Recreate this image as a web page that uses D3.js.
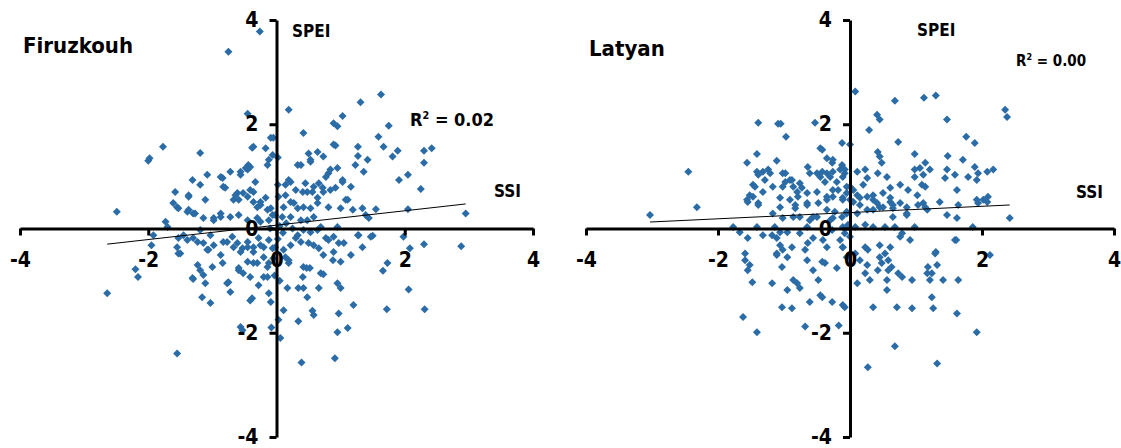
<!DOCTYPE html>
<html>
<head>
<meta charset="utf-8">
<script src="https://cdn.jsdelivr.net/npm/d3@7"></script>
<style>
  body { margin: 0; background: #fff; }
  svg text { font-family: "DejaVu Sans Condensed", "Liberation Sans", sans-serif; font-weight: bold; fill: #000; }
</style>
</head>
<body>
<div id="chart"></div>
<script>
/* axis ticks, shared by both panels */
const tickValues = [-4, -2, 0, 2, 4];

/* Firuzkouh: [SSI, SPEI] pairs */
const firuzkouhPoints = [
  [-0.75,3.39],[-0.26,3.78],[-0.45,2.2],[-1.77,1.57],[-1.98,1.35],[-2.0,1.3],[-1.19,1.45],[-2.49,0.32],[-0.09,1.74],[-0.36,1.57],
  [-0.17,1.54],[-0.72,1.09],[-0.56,1.09],[-0.44,1.22],[-0.48,1.16],[-1.31,0.93],[-1.08,1.03],[-1.19,0.84],[-0.87,0.99],[-0.83,0.80],
  [-1.58,0.70],[-1.61,0.49],[-1.37,0.61],[-1.11,0.55],[-0.61,0.68],[-0.45,0.61],[-0.36,0.70],[-0.25,0.51],[-0.67,0.55],[-0.33,0.89],
  [-0.14,1.22],[-0.06,1.41],[-1.55,0.41],[-1.39,0.32],[-1.30,0.29],[-1.14,0.20],[-0.98,0.20],[-0.87,0.29],[-1.73,0.13],
  [-0.38,1.55],[-0.12,1.32],[0.02,1.36],[-0.56,1.03],[-0.45,1.13],[-0.41,1.18],[-0.84,0.97],[-0.80,0.78],[-1.37,0.64],[-0.64,0.64],
  [-0.59,0.55],[-0.52,0.68],[-0.41,0.74],[-0.36,0.51],[-0.30,0.41],[-0.25,0.45],[-0.14,0.36],[-0.09,0.39],[-0.17,0.59],[-1.53,0.39],
  [-1.37,0.36],[-1.27,0.29],[-0.98,0.16],[-0.87,0.22],[-0.72,0.22],[-0.59,0.26],[-0.45,0.16],[-0.30,0.20],[-0.25,0.13],[-0.12,0.16],[-0.06,0.26],
  [-1.92,-0.13],[-1.53,-0.18],[-1.45,-0.13],[-1.30,-0.18],[-1.19,-0.03],[-1.03,-0.13],[-1.55,-0.36],[-1.50,-0.48],[-1.14,-0.28],[-1.06,-0.41],
  [-0.87,-0.51],[-0.83,-0.26],[-0.69,-0.16],[-0.61,-0.28],[-0.53,-0.38],[-0.45,-0.26],[-0.36,-0.36],[-0.28,-0.18],[-0.20,-0.36],[-0.12,-0.22],
  [-0.06,-0.38],[-1.23,-0.70],[-1.31,-0.95],[-1.11,-1.05],[-0.77,-1.05],[-0.72,-1.22],[-0.59,-0.76],[-0.41,-0.93],[-0.30,-0.66],[-0.20,-0.93],
  [-0.14,-0.74],[-0.41,-1.38],[-0.12,-1.24],[-0.09,-1.41],
  [-2.64,-1.24],[-1.55,-2.40],[-2.20,-0.78],[-2.16,-0.93],[-1.95,-0.32],[-1.53,-0.48],[-1.30,-0.97],[-1.19,-0.80],[-1.14,-0.89],[-1.16,-1.32],
  [-1.03,-1.43],[-1.00,-0.74],[-0.84,-0.66],[-0.75,-1.03],[-0.59,-0.80],[-0.52,-0.86],[-0.38,-1.34],[-0.28,-1.09],[-0.56,-1.89],[-0.53,-1.95],
  [-0.14,-0.93],[-1.39,-0.22],[-1.23,-0.26],[-1.08,-0.41],[-0.98,-0.32],[-0.77,-0.26],[-0.67,-0.36],[-0.56,-0.45],[-0.45,-0.36],[-0.36,-0.45],
  [-0.25,-0.32],[-0.20,-0.55],[-0.12,-0.66],[-0.36,-0.66],[-0.45,-0.64],[-1.70,0.03],
  [0.19,2.28],[1.31,2.42],[1.63,2.57],[1.03,2.16],[0.89,2.02],[0.95,1.96],[1.75,1.97],[0.42,1.83],[1.59,1.76],[1.67,1.57],
  [1.89,1.49],[2.30,1.49],[2.42,1.54],[2.30,1.26],[0.92,1.59],[1.27,1.57],[1.27,1.39],[1.42,1.32],[1.81,1.38],[1.23,1.22],
  [1.36,1.09],[0.95,1.16],[0.81,1.06],[0.77,0.99],[0.64,1.47],[0.50,1.44],[0.53,1.32],[0.73,1.38],[0.33,1.22],[0.38,1.22],
  [2.05,1.03],[1.91,0.93],[2.25,0.76],[1.16,0.80],[1.03,0.89],[0.92,0.78],[0.84,0.74],[0.72,0.78],[0.66,0.87],[0.58,0.80],
  [0.45,0.87],[0.48,0.70],[0.30,0.74],[0.14,0.84],[0.22,0.89],[0.14,0.64],[1.08,0.55],[0.81,0.41],[1.00,0.39],[1.19,0.36],
  [1.34,0.39],[1.39,0.26],[1.44,0.20],[1.55,0.37],[2.05,0.37],[2.95,0.29],[0.64,0.49],[0.42,0.41],[0.27,0.49],[0.11,0.41],
  [0.89,1.61],[0.53,1.28],[0.84,1.13],[1.03,0.93],[-0.05,1.74],[0.19,0.93],[0.02,0.84],[0.41,0.70],[0.56,0.70],[0.64,0.59],
  [0.73,0.70],[1.11,0.55],[0.03,0.61],[0.22,0.51],[0.33,0.39],[0.53,0.39],[-0.02,0.26],[0.09,0.22],[0.22,0.22],[0.38,0.16],
  [0.48,0.16],[0.58,0.22],[0.69,0.03],[0.95,0.03],[0.33,-0.13],[0.42,-0.03],[0.53,-0.07],[0.64,-0.03],[0.77,-0.18],[0.89,-0.16],
  [1.27,-0.13],[1.47,-0.16],[0.42,-0.74],[0.69,-0.86],
  [2.88,-0.34],[2.30,-0.30],[2.08,-0.38],[1.98,-0.16],[1.73,-0.66],[1.66,-0.81],[2.06,-1.17],[2.31,-1.55],[1.72,-1.55],[1.20,-1.47],
  [1.11,-1.91],[0.95,-1.99],[0.91,-2.49],[0.39,-2.57],[0.34,-1.78],[0.11,-1.57],[0.58,-1.66],[0.56,-1.58],[0.97,-1.63],[0.17,-1.14],
  [0.34,-1.14],[0.42,-1.14],[0.48,-1.32],[0.66,-1.14],[0.95,-1.05],[1.00,-1.14],[0.41,-0.93],[0.47,-0.76],[0.52,-0.76],[0.73,-0.88],
  [0.19,-0.61],[0.88,-0.61],[1.00,-0.64],[1.16,-0.51],[1.34,-0.36],[1.50,-0.14],[1.28,-0.13],[1.05,-0.28],[0.97,-0.28],[0.81,-0.22],
  [0.73,-0.51],[0.89,-0.45],[0.66,-0.38],[0.58,-0.32],[0.50,-0.28],[0.38,-0.26],[0.30,-0.18],[0.22,-0.32],[0.11,-0.41],[0.14,-0.55],
  [0.19,-0.66],[-0.02,-0.36],[-0.05,-0.57],
  [0.02,-0.2],[-0.03,-0.9],[0.05,-1.0],[0.03,-1.75],[-0.08,-1.9],[0.06,-2.1],[0.05,0.05],[0.15,0.1],[0.25,0.0],[-0.1,0.0],[0.1,-0.08]
];

/* Latyan: [SSI, SPEI] pairs */
const latyanPoints = [
  [-3.03,0.26],[-2.45,1.09],[-2.32,0.41],[-1.39,2.03],[-1.09,2.01],[-1.05,2.01],[-0.97,1.76],[-0.53,2.03],[-1.41,1.43],[-1.56,1.26],
  [-1.11,1.30],[-1.41,1.09],[-1.32,1.09],[-1.24,1.13],[-1.21,1.06],[-1.29,0.93],[-1.02,1.06],[-0.91,0.93],[-0.64,1.18],[-0.61,1.06],
  [-0.45,1.54],[-0.35,1.35],[-0.27,1.26],[-0.50,1.06],[-0.42,1.09],[-0.35,1.06],[-0.26,1.09],[-0.15,1.13],[-0.08,1.06],[-1.47,0.84],
  [-1.17,0.80],[-1.02,0.80],[-0.86,0.80],[-0.76,0.87],[-0.65,0.68],[-1.47,0.61],[-1.55,0.51],[-1.39,0.49],[-1.06,0.59],[-0.91,0.55],
  [-0.79,0.61],[-0.83,0.39],[-0.65,0.49],[-0.50,0.70],[-0.48,0.49],[-0.35,0.55],[-0.26,0.61],[-0.18,0.74],[-0.11,0.55],[-0.05,0.68],
  [-1.17,0.29],[-0.86,0.22],[-0.56,0.22],[-0.30,0.16],[-0.12,0.22],
  [-0.42,1.51],[-0.26,1.32],[-0.12,1.22],[-1.39,1.03],[-0.98,1.06],[-0.98,0.89],[-0.88,0.93],[-1.44,0.80],[-1.32,0.70],[-1.52,0.64],
  [-1.56,0.55],[-1.39,0.45],[-1.06,0.41],[-0.80,0.70],[-0.73,0.78],[-0.83,0.45],[-0.65,0.45],[-0.35,0.61],[-0.26,0.74],[-0.35,0.36],
  [-0.23,0.32],[-0.30,0.99],[-0.45,0.99],[-0.38,0.89],[-0.20,0.89],[-0.11,0.99],[-1.02,0.20],[-0.76,0.22],[-0.61,0.16],[-0.50,0.22],
  [-0.26,0.20],[-0.12,1.64],
  [-1.77,0.03],[-1.67,-0.07],[-1.55,-0.18],[-1.41,0.03],[-1.59,-0.61],[-1.52,-0.70],[-1.48,-1.03],[-1.32,-0.13],[-1.18,-0.13],[-1.14,0.03],
  [-1.06,-0.07],[-1.11,-0.18],[-1.06,-0.32],[-1.11,-0.48],[-1.02,-0.41],[-0.95,-0.55],[-0.88,-0.36],[-0.95,-0.07],[-0.76,-0.09],[-0.65,0.03],
  [-0.64,-0.28],[-0.65,-0.61],[-0.56,-0.80],[-0.48,-0.99],[-0.38,-0.66],[-0.41,-0.22],[-0.35,-0.36],[-0.20,-0.76],[-0.15,-0.22],[-0.11,-0.36],
  [-0.27,-0.03],[-1.18,-1.05],[-0.95,-1.18],[-0.86,-0.99],[-0.80,-1.05],[-0.76,-1.14],[-1.03,-1.51],[-0.88,-1.53],[-0.61,-1.41],[-0.45,-1.28],
  [-0.27,-1.41],[-0.08,-1.51],[-1.62,-1.70],[-1.41,-1.99],[-0.68,-1.88],[-0.17,-1.86],[-1.59,-0.48],[-1.55,-0.80],[-1.11,-0.51],[-1.03,-0.74],
  [-0.42,-1.32],[-0.42,-0.64],[-0.68,-0.41],[-0.56,-0.18],[-0.05,-0.55],
  [0.08,2.63],[0.68,2.45],[1.12,2.51],[1.30,2.55],[2.35,2.28],[2.38,2.14],[0.41,2.18],[0.45,2.09],[0.29,1.89],[1.47,2.09],
  [0.73,1.66],[1.76,1.76],[1.89,1.64],[0.0,1.61],[0.42,1.47],[0.98,1.43],[1.48,1.39],[0.45,1.38],[0.48,1.26],[1.14,1.26],
  [1.71,1.32],[1.89,1.18],[0.98,1.13],[1.06,1.16],[1.21,1.13],[1.47,1.13],[1.59,1.03],[1.79,0.99],[1.94,1.06],[2.08,1.09],
  [2.17,1.13],[0.98,0.99],[1.11,1.03],[1.44,0.97],[0.23,1.13],[0.26,0.97],[0.42,1.06],[0.56,0.99],[0.11,1.09],[0.76,0.84],
  [0.88,0.74],[0.61,0.78],[0.50,0.68],[1.09,0.84],[1.14,0.80],[1.62,0.74],[1.02,0.64],[0.35,0.55],[0.61,0.51],[0.76,0.49],
  [1.11,0.49],[1.36,0.51],[1.94,0.49],[2.02,0.55],[2.09,0.61],[1.47,0.26],[1.62,0.20],[2.42,0.20],[1.17,0.36],[0.86,0.29],
  [0.65,0.39],[0.45,0.41],[0.26,0.36],[0.15,0.45],[0.11,0.64],[0.0,0.80],[0.0,0.55],[-0.05,0.29],
  [-0.08,1.13],[1.92,0.93],[-0.05,0.80],[0.05,0.74],[0.20,0.84],[0.35,0.64],[1.92,0.55],[-0.11,0.59],[0.05,0.51],[0.15,0.59],
  [0.26,0.61],[0.41,0.49],[0.50,0.41],[0.61,0.59],[0.65,0.45],[0.86,0.41],[1.03,0.45],[1.14,0.41],[1.64,0.45],[2.08,0.51],
  [-0.05,0.32],[0.11,0.29],[0.35,0.36],[0.65,0.22],[0.86,0.26],
  [-0.11,0.03],[-0.03,0.07],[0.08,0.03],[0.23,0.07],[0.35,0.03],[0.53,0.03],[0.68,0.03],[0.79,-0.09],[0.98,0.03],[0.91,-0.22],
  [0.76,-0.16],[1.59,-0.22],[1.86,0.03],[-0.08,-0.09],[0.0,-0.16],[-0.11,-0.36],[0.23,-0.36],[0.27,-0.41],[0.45,-0.32],[0.53,-0.48],
  [0.61,-0.36],[0.45,-0.55],[0.48,-0.66],[0.58,-0.61],[0.63,-0.74],[0.15,-0.61],[0.26,-0.70],[0.08,-0.48],[0.23,-0.86],[0.30,-0.99],
  [0.42,-0.80],[0.58,-0.80],[0.73,-0.86],[0.79,-0.93],[0.56,-0.99],[1.29,-0.48],[1.18,-0.74],[1.32,-0.70],[1.17,-0.86],[1.24,-0.86],
  [0.11,-1.05],[0.56,-1.18],[0.94,-0.99],[1.21,-0.99],[1.41,-0.99],[1.64,-0.99],[-0.11,-1.47],[0.35,-1.51],[0.71,-1.51],[0.94,-1.53],
  [1.24,-1.32],[1.26,-1.53],[1.62,-1.63],[0.27,-2.66],[0.68,-2.26],[1.32,-2.59],[1.92,-1.99],[2.12,-0.51],[1.61,-0.22],[1.30,-0.45]
];

/* linear trend lines: [slope, intercept], with R² labels */
const firuzkouhTrend = [0.138, 0.064];
const latyanTrend = [0.060, 0.306];
const r2Labels = ["0.02", "0.00"];

const svg = d3.select("#chart").append("svg")
    .attr("width", 1121)
    .attr("height", 448);

const diamond = d3.symbol().type(d3.symbolSquare).size(32);

// draws one panel; px = horizontal range of the x axis
function drawPanel(points, trend, cfg) {
  const x = d3.scaleLinear().domain([-4, 4]).range(cfg.px);
  const y = d3.scaleLinear().domain([-4, 4]).range([437, 20]);
  const g = svg.append("g");

  /* points */
  g.selectAll("path.pt")
    .data(points)
    .enter()
    .append("path")
    .attr("class", "pt")
    .attr("d", diamond)
    .attr("transform", d => `translate(${x(d[0])},${y(d[1])}) rotate(45)`)
    .attr("fill", "#2b6ca6");

  /* trend line over the data range */
  const ext = d3.extent(points, d => d[0]);
  g.append("line")
    .attr("x1", x(ext[0])).attr("y1", y(trend[0] * ext[0] + trend[1]))
    .attr("x2", x(ext[1])).attr("y2", y(trend[0] * ext[1] + trend[1]))
    .attr("stroke", "#000")
    .attr("stroke-width", 1);

  /* axes crossing at the origin */
  const fmt = d => String(d);   // plain hyphen, as in the original
  const xAxis = g.append("g")
    .attr("transform", `translate(0,${y(0)})`)
    .call(d3.axisBottom(x).tickValues(tickValues).tickSize(7).tickSizeOuter(0).tickFormat(fmt));
  const yAxis = g.append("g")
    .attr("transform", `translate(${x(0)},0)`)
    .call(d3.axisLeft(y).tickValues(tickValues).tickSize(7).tickSizeOuter(0).tickFormat(fmt));

  [xAxis, yAxis].forEach(a => {
    a.select(".domain").attr("stroke", "#000").attr("stroke-width", 3);
    a.selectAll(".tick line").attr("stroke", "#000").attr("stroke-width", 3);
    a.selectAll(".tick text")
      .attr("font-size", 21)
      .style("font-family", "'DejaVu Sans Condensed', 'Liberation Sans', sans-serif")
      .style("font-weight", "bold")
      .attr("fill", "#000");
  });
  xAxis.selectAll(".tick text").attr("y", 24);
  yAxis.selectAll(".tick text").attr("x", -18);

  /* labels */
  g.append("text").attr("x", cfg.title[0]).attr("y", cfg.title[1])
    .attr("font-size", 22).text(cfg.name);
  g.append("text").attr("x", cfg.spei[0]).attr("y", cfg.spei[1])
    .attr("font-size", 17).text("SPEI");
  g.append("text").attr("x", cfg.ssi[0]).attr("y", cfg.ssi[1])
    .attr("font-size", 17).text("SSI");
  const r2 = g.append("text").attr("x", cfg.r2[0]).attr("y", cfg.r2[1])
    .attr("font-size", cfg.r2[2]);
  r2.append("tspan").text("R");
  r2.append("tspan").attr("dy", -cfg.r2[2] * 0.4).attr("font-size", cfg.r2[2] * 0.6).text("2");
  r2.append("tspan").attr("dy", cfg.r2[2] * 0.4).text(" = " + cfg.r2[3]);
}

drawPanel(firuzkouhPoints, firuzkouhTrend, {
  name: "Firuzkouh", px: [20, 533],
  title: [23, 53], spei: [292, 37], ssi: [494, 197], r2: [410, 126, 18, r2Labels[0]]
});
drawPanel(latyanPoints, latyanTrend, {
  name: "Latyan", px: [586, 1114],
  title: [589, 56], spei: [917, 36], ssi: [1076, 198], r2: [1016, 66, 15, r2Labels[1]]
});
</script>
</body>
</html>
